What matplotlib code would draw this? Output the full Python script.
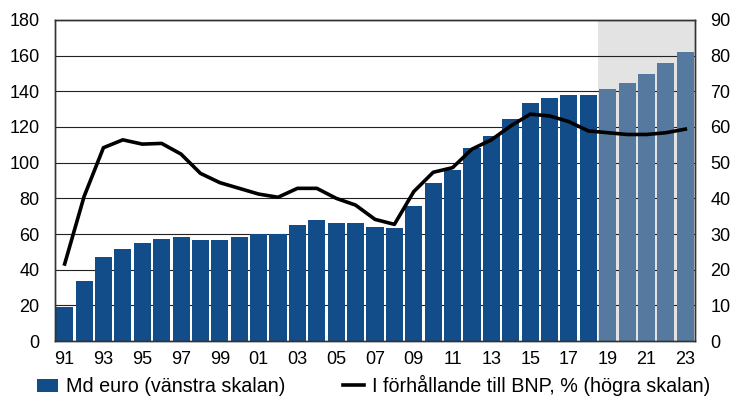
import matplotlib.pyplot as plt
from matplotlib.lines import Line2D
from matplotlib.patches import Patch

plt.rcParams['font.family'] = ['Liberation Sans', 'DejaVu Sans']

years = list(range(1991, 2024))
labels = [f"{y % 100:02d}" for y in years]

# Md euro (left axis)
md_euro = [19.3, 33.6, 46.9, 51.4, 54.8, 57.0, 58.1, 56.8, 56.4, 58.3,
           59.8, 60.2, 65.2, 68.0, 66.2, 66.2, 63.7, 63.5, 75.9, 88.6,
           95.9, 108.0, 115.1, 124.3, 133.5, 136.4, 137.8, 137.9,
           141.5, 144.9, 149.9, 155.7, 161.9]

# share of GDP, % (right axis)
pct_bnp = [21.6, 40.5, 54.2, 56.4, 55.2, 55.4, 52.4, 47.0, 44.4, 42.8,
           41.2, 40.3, 42.8, 42.8, 40.0, 38.1, 34.1, 32.7, 41.9, 47.3,
           48.6, 53.8, 56.4, 60.3, 63.6, 63.1, 61.5, 58.9, 58.4, 57.9,
           57.9, 58.4, 59.4]

first_forecast = 2019

dark = '#124c89'
light = '#55799f'
x = list(range(len(years)))
colors = [light if y >= first_forecast else dark for y in years]

fig = plt.figure(figsize=(7.31, 4.08), dpi=100)
ax = fig.add_axes([0.0752, 0.1642, 0.8756, 0.7868])

fc_start = years.index(first_forecast) - 0.5
ax.axvspan(fc_start, len(years) - 0.5, color='#e3e3e3', zorder=0, lw=0)

for v in range(20, 181, 20):
    ax.axhline(v, color='#222222', lw=0.8, zorder=1)

ax.bar(x, md_euro, width=0.88, color=colors, zorder=2)

ax.set_xlim(-0.5, len(years) - 0.5)
ax.set_ylim(0, 180)
ax.set_yticks(range(0, 181, 20))
ax.set_xticks(x[::2])
ax.set_xticklabels(labels[::2])
ax.tick_params(axis='both', length=0, labelsize=13, pad=7)
ax.tick_params(axis='y', pad=11)

for s in ax.spines.values():
    s.set_color('#333333')
    s.set_linewidth(1.0)

ax2 = ax.twinx()
ax2.plot(x, pct_bnp, color='black', lw=2.6, zorder=3)
ax2.set_ylim(0, 90)
ax2.set_yticks(range(0, 91, 10))
ax2.tick_params(axis='y', length=0, labelsize=13, pad=11)
for s in ax2.spines.values():
    s.set_color('#333333')
    s.set_linewidth(1.0)

handles = [Patch(facecolor=dark, edgecolor='none'),
           Line2D([], [], color='black', lw=2.6)]
fig.legend(handles, ['Md euro (vänstra skalan)',
                     'I förhållande till BNP, % (högra skalan)'],
           loc='lower center', bbox_to_anchor=(0.511, -0.015), ncol=2,
           frameon=False, fontsize=14.2, handlelength=1.1, handletextpad=0.4,
           columnspacing=2.9)

fig.savefig('out.png', dpi=100)
